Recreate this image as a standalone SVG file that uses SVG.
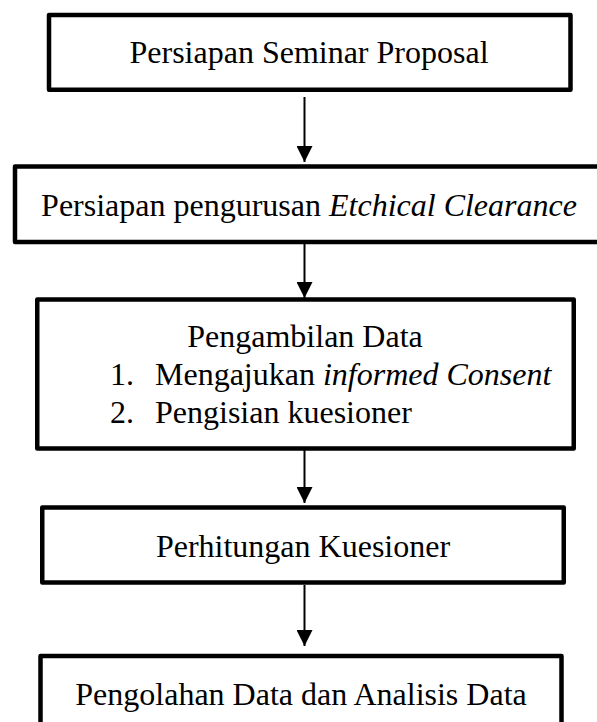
<svg xmlns="http://www.w3.org/2000/svg" width="597" height="722" viewBox="0 0 597 722">
  <style>
    .box { fill: #ffffff; stroke: #000000; stroke-width: 4.5; stroke-linejoin: round; }
    .lbl { font-family: "Liberation Serif", "Times New Roman", serif; font-size: 32px; fill: #000000; }
    .mid { text-anchor: middle; }
    .it { font-style: italic; }
    .conn { stroke: #000000; stroke-width: 2; fill: none; marker-end: url(#arrow); }
  </style>
  <defs>
    <marker id="arrow" markerUnits="userSpaceOnUse" markerWidth="16" markerHeight="16" refX="16" refY="8" orient="auto">
      <path d="M0,0 L16,8 L0,16 Z" fill="#000000"/>
    </marker>
  </defs>
  <rect x="0" y="0" width="597" height="722" fill="#ffffff"/>

  <g id="connectors">
    <line class="conn" x1="304.5" y1="97" x2="304.5" y2="162"/>
    <line class="conn" x1="304.5" y1="244" x2="304.5" y2="298"/>
    <line class="conn" x1="304.5" y1="450" x2="304.5" y2="503"/>
    <line class="conn" x1="304.5" y1="585" x2="304.5" y2="646"/>
  </g>

  <g id="node-seminar">
    <rect class="box" x="49" y="15" width="521.5" height="74.75"/>
    <text class="lbl mid" x="309" y="63">Persiapan Seminar Proposal</text>
  </g>

  <g id="node-ethical">
    <rect class="box" x="15" y="166.5" width="620" height="75.5"/>
    <text class="lbl mid" x="309" y="216">Persiapan pengurusan <tspan class="it">Etchical Clearance</tspan></text>
  </g>

  <g id="node-pengambilan">
    <rect class="box" x="37.25" y="299.5" width="536.5" height="149"/>
    <text class="lbl mid" x="305" y="347">Pengambilan Data</text>
    <text class="lbl" x="110" y="385">1.</text>
    <text class="lbl" x="155" y="385">Mengajukan <tspan class="it">informed Consent</tspan></text>
    <text class="lbl" x="110" y="423">2.</text>
    <text class="lbl" x="155" y="423">Pengisian kuesioner</text>
  </g>

  <g id="node-perhitungan">
    <rect class="box" x="42.25" y="507.5" width="521.5" height="75"/>
    <text class="lbl mid" x="303" y="557">Perhitungan Kuesioner</text>
  </g>

  <g id="node-pengolahan">
    <rect class="box" x="40.5" y="656" width="521" height="90"/>
    <text class="lbl mid" x="301" y="705">Pengolahan Data dan Analisis Data</text>
  </g>
</svg>
